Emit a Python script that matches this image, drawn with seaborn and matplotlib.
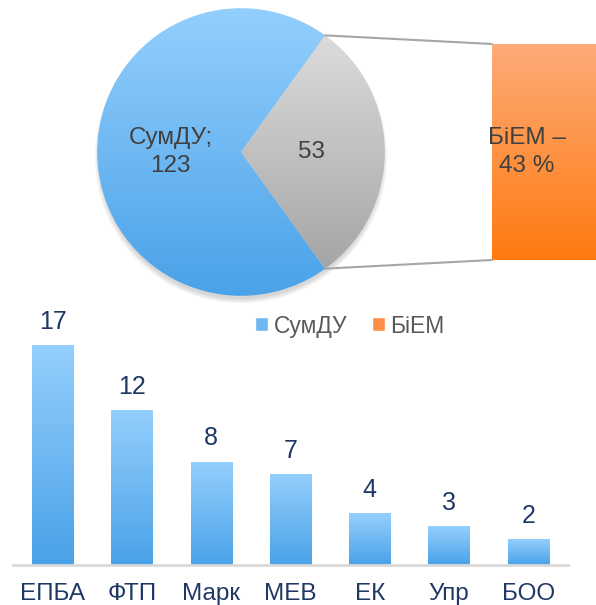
import numpy as np
import pandas as pd
import matplotlib
matplotlib.use('Agg')
import matplotlib.pyplot as plt
import seaborn as sns
from matplotlib.colors import LinearSegmentedColormap
from matplotlib.patches import Patch, Circle, ConnectionPatch

# Data
pie_labels = ['СумДУ', 'БіЕМ']
pie_values = [123, 53]
biem_share = 43  # % of СумДУ

faculties = ['ЕПБА', 'ФТП', 'Марк', 'МЕВ', 'ЕК', 'Упр', 'БОО']
counts = [17, 12, 8, 7, 4, 3, 2]

sns.set_theme(style='white')
plt.rcParams['font.family'] = ['Liberation Sans', 'DejaVu Sans']

navy = '#1F3864'
dark_text = '#404040'
blue_cmap = LinearSegmentedColormap.from_list('blue', ['#4AA2E8', '#94CFFD'])
grey_cmap = LinearSegmentedColormap.from_list('grey', ['#A5A5A5', '#DCDCDC'])
orange_cmap = LinearSegmentedColormap.from_list('orange', ['#FF7A10', '#FDAB78'])

W, H = 596, 605
fig = plt.figure(figsize=(W / 100, H / 100), dpi=100)


def px_axes(x0, y0, x1, y1):
    # axes from pixel box (top-left origin)
    return fig.add_axes([x0 / W, 1 - y1 / H, (x1 - x0) / W, (y1 - y0) / H])


def gradient_fill(ax, patch, cmap, extent=None):
    if extent is None:
        x0, y0 = patch.get_x(), patch.get_y()
        extent = [x0, x0 + patch.get_width(), y0, y0 + patch.get_height()]
    grad = np.linspace(0, 1, 256).reshape(-1, 1)
    im = ax.imshow(grad, cmap=cmap, origin='lower', extent=extent,
                   aspect='auto', zorder=patch.get_zorder() + 0.1)
    im.set_clip_path(patch)
    patch.set_facecolor('none')
    patch.set_edgecolor('none')


# ---- pie ----
ax_pie = px_axes(241 - 151, 152 - 151, 241 + 151, 152 + 151)
total = sum(pie_values)
# soft drop shadow under the pie
for i in range(5):
    ax_pie.add_patch(Circle((0.0, -0.035), 0.985 + 0.008 * i, color='#666666',
                            alpha=0.06, lw=0, zorder=0))
wedges, _ = ax_pie.pie(pie_values, startangle=180 * pie_values[1] / total,
                       radius=1.0, wedgeprops=dict(lw=0))
for w in wedges:
    w.set_zorder(2)
gradient_fill(ax_pie, wedges[0], blue_cmap, extent=[-1, 1, -1, 1])
gradient_fill(ax_pie, wedges[1], grey_cmap, extent=[-1, 1, -0.82, 0.82])
ax_pie.set_xlim(-1.05, 1.05)
ax_pie.set_ylim(-1.05, 1.05)
ax_pie.axis('off')
ax_pie.text(-0.49, 0.0, f'{pie_labels[0]};\n{pie_values[0]}', ha='center', va='center',
            fontsize=17.5, color=dark_text, linespacing=1.3, zorder=5)
ax_pie.text(0.49, 0.0, f'{pie_values[1]}', ha='center', va='center',
            fontsize=17.5, color=dark_text, zorder=5)

# ---- bar of pie (БіЕМ) ----
ax_o = px_axes(492, 44, 600, 260)
sns.barplot(x=[pie_labels[1]], y=[pie_values[1]], ax=ax_o, width=1.0)
ax_o.set_xlim(-0.5, 0.5)
ax_o.set_ylim(0, pie_values[1])
gradient_fill(ax_o, ax_o.patches[0], orange_cmap)
ax_o.axis('off')
ax_o.text(0.325, 0.5, f'{pie_labels[1]} –\n{biem_share} %', transform=ax_o.transAxes,
          ha='center', va='center', fontsize=17.5, color=dark_text, linespacing=1.3, zorder=5)

# connector lines from the grey wedge edges to the bar corners
for ang, yb in [(wedges[1].theta2, 1), (wedges[1].theta1, 0)]:
    xa, ya = np.cos(np.radians(ang)), np.sin(np.radians(ang))
    con = ConnectionPatch(xyA=(xa, ya), coordsA=ax_pie.transData,
                          xyB=(0, yb), coordsB=ax_o.transAxes,
                          color='#A6A6A6', lw=1.5)
    fig.add_artist(con)

# ---- legend ----
fig.legend(handles=[Patch(facecolor='#6DB8F3'), Patch(facecolor='#FE8D45')],
           labels=pie_labels, ncol=2, frameon=False, loc='center',
           bbox_to_anchor=(350 / W, 1 - 326 / H), fontsize=16.5,
           handlelength=0.55, handleheight=0.55, handletextpad=0.25,
           columnspacing=1.1, labelcolor='#595959')

# ---- bars by faculty ----
df = pd.DataFrame({'faculty': faculties, 'count': counts})
ax_b = px_axes(13, 305, 568, 565)
sns.barplot(data=df, x='faculty', y='count', ax=ax_b, width=0.52, color='#6DB8F3')
for p in ax_b.patches:
    gradient_fill(ax_b, p, blue_cmap)
ax_b.set_xlim(-0.5, 6.5)
ax_b.set_ylim(0, 20.1)
ax_b.bar_label(ax_b.containers[0], labels=[str(c) for c in counts],
               padding=8, fontsize=18, color=navy)
for s in ['top', 'right', 'left']:
    ax_b.spines[s].set_visible(False)
ax_b.spines['bottom'].set_color('#D9D9D9')
ax_b.spines['bottom'].set_linewidth(2)
ax_b.set_yticks([])
ax_b.set_xlabel('')
ax_b.set_ylabel('')
ax_b.tick_params(axis='x', length=0, pad=13, labelsize=17.5, labelcolor=navy)

fig.savefig('out.png', dpi=100)
